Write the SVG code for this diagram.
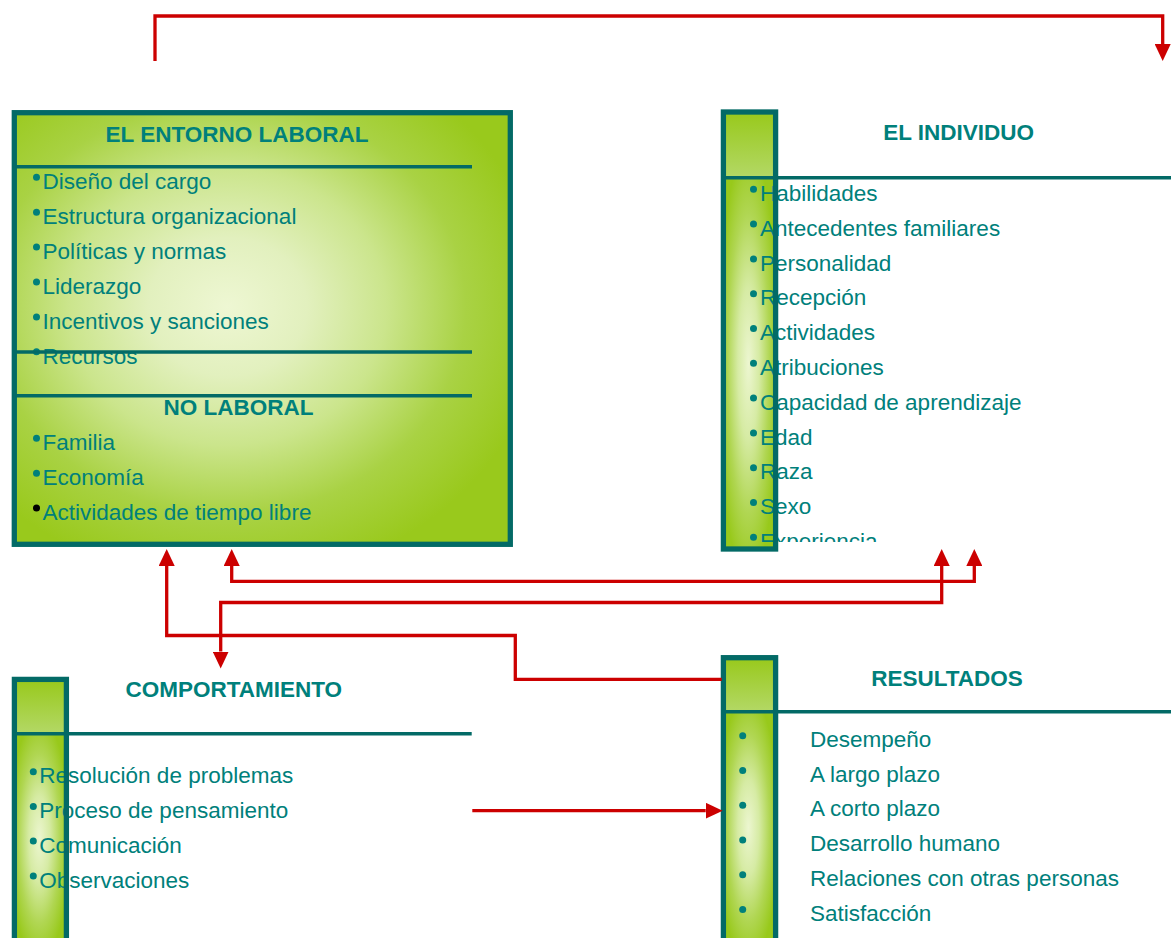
<svg xmlns="http://www.w3.org/2000/svg" width="1171" height="938" viewBox="0 0 1171 938">
  <defs>
    <style>
      .txt { font-family: "Liberation Sans", Arial, Helvetica, sans-serif; font-size: 22.5px; fill: #00807b; }
      .hdr { font-family: "Liberation Sans", Arial, Helvetica, sans-serif; font-size: 22.5px; font-weight: bold; fill: #00807b; text-anchor: middle; }
      .frame { fill: none; stroke: #036a66; stroke-width: 5.3; }
      .rule { stroke: #036a66; stroke-width: 3.4; }
      .dot { fill: #00807b; }
      .link { fill: none; stroke: #cc0000; stroke-width: 3.3; stroke-linejoin: miter; }
    </style>
    <!-- big panel: light centre fading to leaf green -->
    <radialGradient id="panelFill" cx="0.43" cy="0.45" r="0.64">
      <stop offset="0" stop-color="#eef7d3"/>
      <stop offset="0.25" stop-color="#e2f0be"/>
      <stop offset="0.5" stop-color="#cbe58c"/>
      <stop offset="0.75" stop-color="#a9d244"/>
      <stop offset="1" stop-color="#99c91c"/>
    </radialGradient>
    <!-- narrow bar header cap -->
    <linearGradient id="capFill" x1="0" y1="0" x2="0" y2="1">
      <stop offset="0" stop-color="#98c91b"/>
      <stop offset="1" stop-color="#b3d866"/>
    </linearGradient>
    <!-- narrow bar body -->
    <radialGradient id="barFill" cx="0.48" cy="0.5" r="0.58">
      <stop offset="0" stop-color="#ecf6d0"/>
      <stop offset="0.35" stop-color="#d6eba4"/>
      <stop offset="0.7" stop-color="#b0d652"/>
      <stop offset="1" stop-color="#98c91b"/>
    </radialGradient>
    <marker id="head" markerUnits="userSpaceOnUse" markerWidth="17" markerHeight="16" viewBox="0 0 17 16" refX="0" refY="8" orient="auto-start-reverse">
      <path d="M0,0 L17,8 L0,16 z" fill="#cc0000"/>
    </marker>
    <clipPath id="individuoClip">
      <rect x="700" y="178" width="471" height="364"/>
    </clipPath>
  </defs>

  <!-- EL ENTORNO LABORAL / NO LABORAL -->
  <g id="entorno">
    <rect x="14.3" y="112.7" width="496" height="431.6" fill="url(#panelFill)"/>
    <text class="hdr" x="237" y="141.5">EL ENTORNO LABORAL</text>
    <g class="txt">
      <text x="42.5" y="189">Diseño del cargo</text>
      <text x="42.5" y="223.9">Estructura organizacional</text>
      <text x="42.5" y="258.8">Políticas y normas</text>
      <text x="42.5" y="293.7">Liderazgo</text>
      <text x="42.5" y="328.6">Incentivos y sanciones</text>
      <text x="42.5" y="363.5">Recursos</text>
      <text x="42.5" y="450">Familia</text>
      <text x="42.5" y="484.9">Economía</text>
      <text x="42.5" y="519.8">Actividades de tiempo libre</text>
    </g>
    <g class="dot">
      <circle cx="36.5" cy="177.3" r="3.5"/>
      <circle cx="36.5" cy="212.2" r="3.5"/>
      <circle cx="36.5" cy="247.1" r="3.5"/>
      <circle cx="36.5" cy="282" r="3.5"/>
      <circle cx="36.5" cy="316.9" r="3.5"/>
      <circle cx="36.5" cy="351.8" r="3.5"/>
      <circle cx="36.5" cy="438.3" r="3.5"/>
      <circle cx="36.5" cy="473.2" r="3.5"/>
    </g>
    <circle cx="36.5" cy="508.1" r="3.5" fill="#000000"/>
    <text class="hdr" x="238.5" y="415">NO LABORAL</text>
    <line class="rule" x1="14" y1="166.7" x2="472" y2="166.7"/>
    <line class="rule" x1="14" y1="352" x2="472" y2="352"/>
    <line class="rule" x1="14" y1="395.7" x2="472" y2="395.7"/>
    <rect class="frame" x="14.3" y="112.7" width="496" height="431.6"/>
  </g>

  <!-- EL INDIVIDUO -->
  <g id="individuo">
    <rect x="723.4" y="112" width="52.2" height="66" fill="url(#capFill)"/>
    <rect x="723.4" y="178" width="52.2" height="371" fill="url(#barFill)"/>
    <text class="hdr" x="958.7" y="140">EL INDIVIDUO</text>
    <g clip-path="url(#individuoClip)">
      <g class="txt">
        <text x="760" y="201">Habilidades</text>
        <text x="760" y="235.8">Antecedentes familiares</text>
        <text x="760" y="270.6">Personalidad</text>
        <text x="760" y="305.4">Recepción</text>
        <text x="760" y="340.2">Actividades</text>
        <text x="760" y="375">Atribuciones</text>
        <text x="760" y="409.8">Capacidad de aprendizaje</text>
        <text x="760" y="444.6">Edad</text>
        <text x="760" y="479.4">Raza</text>
        <text x="760" y="514.2">Sexo</text>
        <text x="760" y="549">Experiencia</text>
      </g>
      <g class="dot">
        <circle cx="753.5" cy="189.3" r="3.5"/>
        <circle cx="753.5" cy="224.1" r="3.5"/>
        <circle cx="753.5" cy="258.9" r="3.5"/>
        <circle cx="753.5" cy="293.7" r="3.5"/>
        <circle cx="753.5" cy="328.5" r="3.5"/>
        <circle cx="753.5" cy="363.3" r="3.5"/>
        <circle cx="753.5" cy="398.1" r="3.5"/>
        <circle cx="753.5" cy="432.9" r="3.5"/>
        <circle cx="753.5" cy="467.7" r="3.5"/>
        <circle cx="753.5" cy="502.5" r="3.5"/>
        <circle cx="753.5" cy="537.3" r="3.5"/>
      </g>
    </g>
    <line class="rule" x1="723" y1="177.7" x2="1171" y2="177.7"/>
    <rect class="frame" x="723.4" y="112" width="52.2" height="437"/>
  </g>

  <!-- COMPORTAMIENTO -->
  <g id="comportamiento">
    <rect x="14.4" y="679.4" width="52" height="54.3" fill="url(#capFill)"/>
    <rect x="14.4" y="733.7" width="52" height="210" fill="url(#barFill)"/>
    <text class="hdr" x="233.8" y="696.7">COMPORTAMIENTO</text>
    <g class="txt">
      <text x="39.3" y="783.3">Resolución de problemas</text>
      <text x="39.3" y="818">Proceso de pensamiento</text>
      <text x="39.3" y="852.7">Comunicación</text>
      <text x="39.3" y="887.5">Observaciones</text>
    </g>
    <g class="dot">
      <circle cx="33.3" cy="771.7" r="3.5"/>
      <circle cx="33.3" cy="806.4" r="3.5"/>
      <circle cx="33.3" cy="841.1" r="3.5"/>
      <circle cx="33.3" cy="875.9" r="3.5"/>
    </g>
    <line class="rule" x1="14" y1="733.7" x2="471.7" y2="733.7"/>
    <rect class="frame" x="14.4" y="679.4" width="52" height="275"/>
  </g>

  <!-- RESULTADOS -->
  <g id="resultados">
    <rect x="723.4" y="657.7" width="52.2" height="54" fill="url(#capFill)"/>
    <rect x="723.4" y="711.7" width="52.2" height="232" fill="url(#barFill)"/>
    <text class="hdr" x="947" y="685.7">RESULTADOS</text>
    <g class="txt">
      <text x="810" y="746.7">Desempeño</text>
      <text x="810" y="781.5">A largo plazo</text>
      <text x="810" y="816.3">A corto plazo</text>
      <text x="810" y="851">Desarrollo humano</text>
      <text x="810" y="885.8">Relaciones con otras personas</text>
      <text x="810" y="920.6">Satisfacción</text>
    </g>
    <g class="dot">
      <circle cx="742.7" cy="735.7" r="3.5"/>
      <circle cx="742.7" cy="770.5" r="3.5"/>
      <circle cx="742.7" cy="805.3" r="3.5"/>
      <circle cx="742.7" cy="840" r="3.5"/>
      <circle cx="742.7" cy="874.8" r="3.5"/>
      <circle cx="742.7" cy="909.6" r="3.5"/>
    </g>
    <line class="rule" x1="723" y1="711.7" x2="1171" y2="711.7"/>
    <rect class="frame" x="723.4" y="657.7" width="52.2" height="300"/>
  </g>

  <!-- connectors -->
  <g id="connectors">
    <path class="link" d="M155,61 V16 H1162.7 V44" marker-end="url(#head)"/>
    <path class="link" d="M721.7,679.3 H515.3 V635.5 H166.7 V566" marker-end="url(#head)"/>
    <path class="link" d="M231.7,566 V581.3 H974.3 V566" marker-start="url(#head)" marker-end="url(#head)"/>
    <path class="link" d="M941.7,566 V602.5 H220.7 V651.5" marker-start="url(#head)" marker-end="url(#head)"/>
    <path class="link" d="M472.3,810.7 H705.7" marker-end="url(#head)"/>
  </g>
</svg>
